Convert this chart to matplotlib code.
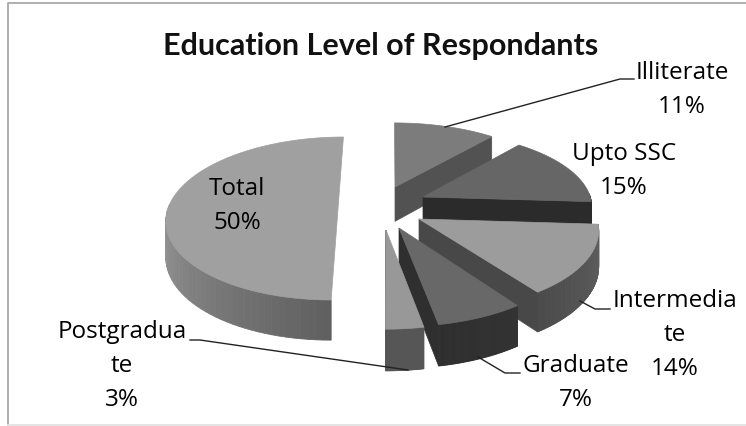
import numpy as np
import matplotlib
matplotlib.use("Agg")
import matplotlib.pyplot as plt

# dados
categories = ["Illiterate", "Upto SSC", "Intermedia\nte", "Graduate", "Postgradua\nte", "Total"]
values = [11, 15, 14, 7, 3, 50]
title = "Education Level of Respondants"

# layout: vertice de cada fatia em pixels
apex_px = [(395, 188), (423, 198), (419, 220), (399, 229), (386, 231), (338, 210)]
radius_u = [0.97, 0.97, 1.0, 1.0, 1.0, 0.97]
radius_v = [0.95, 0.95, 1.0, 1.03, 1.03, 1.01]
label_px = [(682, 90), (624, 171), (675, 335), (576, 383), (122, 366), (237, 206)]
top_colors = ["#7c7c7c", "#666666", "#9c9c9c", "#686868", "#989898", "#a0a0a0"]
cut_colors = ["#525252", "#2b2b2b", "#484848", "#2f2f2f", "#565656", None]
wall_left = ["#555555", "#2b2b2b", "#4a4a4a", "#2e2e2e", "#565656", "#939393"]
wall_right = ["#555555", "#2b2b2b", "#626262", "#333333", "#565656", "#5e5e5e"]

leaders = [
    [(445, 128), (620, 80), (634, 80)],
    [(580, 302), (595, 310), (610, 310)],
    [(478, 358), (505, 374), (520, 374)],
    [(408, 371), (200, 341), (190, 341)],
]

# projecao em perspectiva do plano da pizza
XV, YV, H, A, K = 390.0, -480.0, 700.0, 178.0, 0.117
DEPTH = 36.0


def project(u, v):
    s = 1 / (1 - K * v)
    return XV + A * u * s, YV + H * s, s


def unproject(x, y):
    s = (y - YV) / H
    return (x - XV) / (A * s), (1 - 1 / s) / K


fig = plt.figure(figsize=(7.46, 4.27), dpi=100)
ax = fig.add_axes([0, 0, 1, 1])
ax.set_xlim(0, 746)
ax.set_ylim(427, 0)
ax.axis("off")

# moldura: nao tem lado direito
ax.plot([8, 8, 746], [426, 3.5, 3.5], color="#a8a8a8", lw=1.3)
ax.plot([8, 746], [425.5, 425.5], color="#e2e2e2", lw=1.3)

edges = np.cumsum([0] + values) / sum(values) * 2 * np.pi

for i in range(len(values)):
    u0, v0 = unproject(*apex_px[i])
    th = np.linspace(edges[i], edges[i + 1], 80)
    xa, ya, sa = project(u0 + radius_u[i] * np.sin(th), v0 - radius_v[i] * np.cos(th))
    xc, yc, sc = project(u0, v0)

    # parede externa, em tiras para o degrade (so a metade da frente aparece)
    left = np.array(matplotlib.colors.to_rgb(wall_left[i]))
    right = np.array(matplotlib.colors.to_rgb(wall_right[i]))
    order = np.argsort(xa)
    rank = np.empty_like(order)
    rank[order] = np.arange(len(order))
    for j in range(len(th) - 1):
        if np.cos(th[j]) > 0.05:
            continue
        f = rank[j] / (len(th) - 1)
        ax.fill([xa[j], xa[j + 1], xa[j + 1], xa[j]],
                [ya[j], ya[j + 1], ya[j + 1] + DEPTH * sa[j + 1], ya[j] + DEPTH * sa[j]],
                color=left * (1 - f) + right * f, lw=0.6, zorder=10 + i)

    # face de corte no fim da fatia
    if cut_colors[i] is not None:
        ax.fill([xc, xa[-1], xa[-1], xc],
                [yc, ya[-1], ya[-1] + DEPTH * sa[-1], yc + DEPTH * sc],
                color=cut_colors[i], lw=0.5, zorder=10 + i)

    # face de cima
    ax.fill(np.r_[xc, xa], np.r_[yc, ya], color=top_colors[i], lw=0.5, zorder=10 + i)

for pts in leaders:
    xs, ys = zip(*pts)
    ax.plot(xs, ys, color="#222222", lw=1.0, zorder=30)

font = "Open Sans"
for i, name in enumerate(categories):
    ax.text(label_px[i][0], label_px[i][1], f"{name}\n{values[i]}%", ha="center", va="center",
            family=font, fontsize=17.5, color="#000000", linespacing=1.55, zorder=40)

ax.text(381, 46, title, ha="center", va="center", family="Lato", fontsize=22,
        fontweight="bold", color="#111111", zorder=40)

fig.savefig("out.png", dpi=100)
